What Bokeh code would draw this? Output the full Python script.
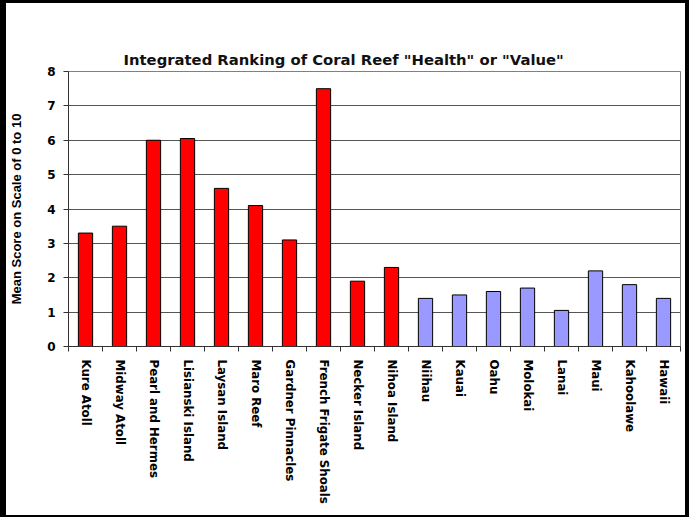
from bokeh.plotting import figure
from bokeh.models import FixedTicker, Range1d
from bokeh.embed import file_html
from bokeh.resources import INLINE

categories = ["Kure Atoll", "Midway Atoll", "Pearl and Hermes", "Lisianski Island",
              "Laysan Island", "Maro Reef", "Gardner Pinnacles", "French Frigate Shoals",
              "Necker Island", "Nihoa Island", "Niihau", "Kauai", "Oahu", "Molokai",
              "Lanai", "Maui", "Kahoolawe", "Hawaii"]
values = [3.3, 3.5, 6.0, 6.05, 4.6, 4.1, 3.1, 7.5, 1.9, 2.3,
          1.4, 1.5, 1.6, 1.7, 1.05, 2.2, 1.8, 1.4]
groups = ["NWHI"] * 10 + ["MHI"] * 8
y_ticks = [0, 1, 2, 3, 4, 5, 6, 7, 8]

group_colors = {"NWHI": "#FF0000", "MHI": "#9999FF"}
FONT = "Liberation Sans"
WIDE = "DejaVu Sans"

n = len(categories)
centers = [i + 0.5 for i in range(n)]
bounds = list(range(n + 1))
colors = [group_colors[g] for g in groups]

p = figure(width=689, height=517, output_backend="svg", toolbar_location=None,
           x_range=Range1d(0, n), y_range=Range1d(0, 8),
           min_border_left=60, min_border_right=15, min_border_top=68, min_border_bottom=174)
p.styles = {"border-style": "solid", "border-color": "black",
            "border-width": "3px 4px 2px 6px", "box-sizing": "border-box",
            "overflow": "hidden"}

p.vbar(x=centers, top=values, width=0.42, fill_color=colors, line_color="black", line_width=1)

p.title.text = 'Integrated Ranking of Coral Reef "Health" or "Value"'
p.title.text_font = WIDE
p.title.text_font_size = "14.8px"
p.title.text_font_style = "bold"
p.title.align = "left"
p.title.offset = 55
p.title.standoff = 8
p.title.text_color = "#111111"

p.outline_line_color = "#808080"
p.background_fill_color = "white"
p.border_fill_color = "white"

xa = p.xaxis[0]
xa.ticker = FixedTicker(ticks=centers, minor_ticks=bounds)
xa.major_label_overrides = {c: name for c, name in zip(centers, categories)}
xa.major_tick_line_color = None
xa.minor_tick_out = 5
xa.minor_tick_in = 0
xa.minor_tick_line_color = "#333333"
xa.axis_line_color = "#333333"
xa.major_label_orientation = "vertical"
xa.major_label_text_font = WIDE
xa.major_label_text_font_style = "bold"
xa.major_label_text_font_size = "11.8px"
xa.major_label_text_color = "black"
xa.major_label_standoff = 7

ya = p.yaxis[0]
ya.ticker = FixedTicker(ticks=y_ticks)
ya.minor_tick_line_color = None
ya.major_tick_out = 5
ya.major_tick_in = 0
ya.major_tick_line_color = "#333333"
ya.axis_line_color = "#333333"
ya.major_label_text_font = WIDE
ya.major_label_text_font_style = "bold"
ya.major_label_text_font_size = "12px"
ya.major_label_text_color = "black"
ya.major_label_standoff = 8
ya.axis_label = "Mean Score on Scale of 0 to 10"
ya.axis_label_text_font = FONT
ya.axis_label_text_font_style = "bold"
ya.axis_label_text_font_size = "13px"
ya.axis_label_text_color = "black"
ya.axis_label_standoff = 20

p.xgrid.grid_line_color = None
p.ygrid.ticker = FixedTicker(ticks=y_ticks)
p.ygrid.grid_line_color = "#555555"
p.ygrid.grid_line_width = 1

open("out.html", "w").write(file_html(p, INLINE))
